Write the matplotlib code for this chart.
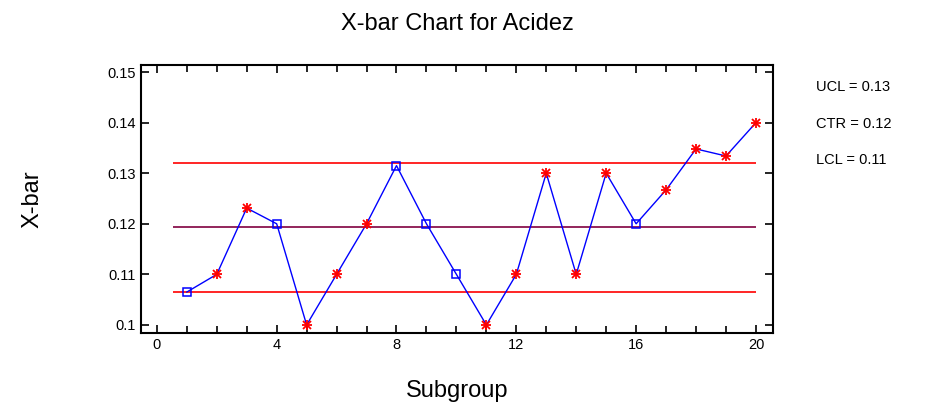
import numpy as np
import matplotlib.pyplot as plt
from matplotlib.ticker import MultipleLocator

plt.rcParams['font.family'] = ['Liberation Sans', 'DejaVu Sans']

# subgroup means
subgroup = np.arange(1, 21)
xbar = [0.1065, 0.110, 0.1231, 0.120, 0.100, 0.110, 0.120, 0.1315, 0.120, 0.110,
        0.100, 0.110, 0.130, 0.110, 0.130, 0.120, 0.1267, 0.1348, 0.1334, 0.140]
# points flagged by the run rules (drawn as red asterisks)
flagged = [False, True, True, False, True, True, True, False, False, False,
           True, True, True, True, True, False, True, True, True, True]

ucl = 0.1321
ctr = 0.1193
lcl = 0.1065
limit_labels = ['UCL = 0.13', 'CTR = 0.12', 'LCL = 0.11']

fig = plt.figure(figsize=(9.3, 4.08), dpi=100)
ax = fig.add_axes([0.1516, 0.1838, 0.6796, 0.6569])

ax.hlines([ucl, lcl], 0.55, 20, color='#ff0000', lw=1.2)
ax.hlines(ctr, 0.55, 20, color='#800040', lw=1.2)

ax.plot(subgroup, xbar, color='#0000ff', lw=1)
flag = np.array(flagged)
x = subgroup
y = np.array(xbar)
ax.plot(x[~flag], y[~flag], 's', ms=6, mfc='none', mec='#0000ff', mew=1.1)
ax.plot(x[flag], y[flag], '+', ms=7, color='#ff0000', mew=1.3)
ax.plot(x[flag], y[flag], 'x', ms=5.5, color='#ff0000', mew=1.3)

ax.set_xlim(-0.53, 20.57)
ax.set_ylim(0.0984, 0.1514)
ax.xaxis.set_major_locator(MultipleLocator(4))
ax.xaxis.set_minor_locator(MultipleLocator(1))
ax.set_yticks([0.1, 0.11, 0.12, 0.13, 0.14, 0.15])
ax.set_yticklabels(['0.1', '0.11', '0.12', '0.13', '0.14', '0.15'])
ax.tick_params(which='both', direction='in', top=True, right=True, labelsize=10.5,
               width=1.2, colors='black')
ax.tick_params(which='major', length=6)
ax.tick_params(which='minor', length=5)
for s in ax.spines.values():
    s.set_linewidth(1.5)

ax.set_title('X-bar Chart for Acidez', fontsize=17, pad=25)
ax.set_xlabel('Subgroup', fontsize=17, labelpad=20)
ax.set_ylabel('X-bar', fontsize=17, labelpad=46)

for i, t in enumerate(limit_labels):
    fig.text(0.877, 0.787 - i * 0.09, t, fontsize=10.5, va='center', ha='left')

plt.savefig('out.png')
